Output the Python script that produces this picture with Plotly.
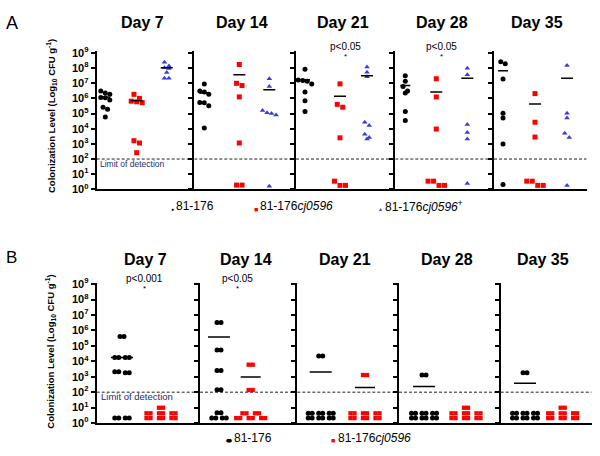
import plotly.graph_objects as go

# ---------------- data (log10 CFU per g) ----------------
days = ["Day 7", "Day 14", "Day 21", "Day 28", "Day 35"]
tick_exponents = list(range(10))
tick_labels = ["<b>10<sup>%d</sup></b>" % e for e in tick_exponents]

# Panel A
a_wt = [
    [6.49, 6.36, 6.27, 6.06, 6.04, 5.89, 5.42, 5.29, 4.78],
    [6.96, 6.49, 6.42, 6.27, 5.74, 5.72, 5.52, 4.05],
    [7.92, 7.22, 7.18, 7.13, 6.96, 6.42, 5.85, 5.14],
    [7.49, 7.13, 6.79, 6.49, 6.36, 5.14, 4.54],
    [8.42, 8.29, 7.28, 5.03, 4.71, 3.00, 0.32],
]
a_mut = [
    [6.27, 6.00, 5.82, 5.78, 5.72, 3.21, 3.06, 2.42],
    [8.24, 7.00, 6.85, 6.10, 3.06, 0.28, 0.28],
    [6.96, 5.61, 5.42, 3.40, 0.54, 0.26, 0.26],
    [7.30, 6.10, 3.98, 0.54, 0.54, 0.26, 0.26],
    [6.32, 4.43, 3.45, 0.54, 0.54, 0.26, 0.26],
]
a_comp = [
    [8.39, 8.14, 8.03, 7.97, 7.71, 7.34, 7.34],
    [7.30, 6.79, 5.20, 5.05, 5.00, 4.90, 0.20],
    [8.07, 7.73, 7.43, 4.43, 4.22, 3.64, 3.42, 3.32],
    [7.99, 7.56, 4.28, 3.75, 3.32, 0.39],
    [8.18, 5.03, 4.71, 3.70, 3.43, 0.26],
]
a_wt_mean = [6.08, 6.36, 7.24, 6.85, 7.82]
a_mut_mean = [5.85, 7.56, 6.15, 6.42, 5.63]
a_comp_mean = [8.03, 6.57, 7.49, 7.34, 7.34]
a_pvals = ["", "", "p<0.05", "p<0.05", ""]

# Panel B
b_wt = [
    [5.61, 4.24, 4.24, 3.32, 3.26, 0.32, 0.32],
    [6.51, 4.73, 3.40, 2.16, 0.67, 0.32, 0.32],
    [4.35, 0.63, 0.63, 0.63, 0.32, 0.32, 0.32],
    [3.11, 0.63, 0.63, 0.63, 0.32, 0.32, 0.32],
    [3.26, 0.63, 0.63, 0.63, 0.32, 0.32, 0.32],
]
b_mut = [
    [0.99, 0.63, 0.63, 0.63, 0.32, 0.32, 0.32],
    [3.78, 2.14, 0.63, 0.63, 0.32, 0.32, 0.32],
    [3.11, 0.63, 0.63, 0.63, 0.32, 0.32, 0.32],
    [0.99, 0.63, 0.63, 0.63, 0.32, 0.32, 0.32],
    [0.99, 0.63, 0.63, 0.63, 0.32, 0.32, 0.32],
]
b_wt_mean = [4.24, 5.57, 3.30, 2.37, 2.58]
b_mut_mean = [None, 2.98, 2.31, None, None]
b_pvals = ["p<0.001", "p<0.05", "", "", ""]

limit_of_detection = 2.0
legend_a = ["81-176", "81-176<i>cj0596</i>", "81-176<i>cj0596</i><sup>+</sup>"]
legend_b = ["81-176", "81-176<i>cj0596</i>"]

# ---------------- layout constants (pixels) ----------------
W, H = 600, 456
FONT = "Liberation Sans, Arial, sans-serif"
BLACK, RED, BLUE = "#000000", "#ff0000", "#3b3bdc"
A_EDGES = [96.7, 194.3, 296.0, 395.3, 494.0, 586.7]
B_EDGES = [96.7, 200.0, 297.3, 399.0, 500.7, 591.7]
A_YPX = (46.7, 188.3)
B_YPX = (284.1, 428.3)
A_CENTERS = {"wt": [8.6, 10, 9, 10, 9], "mut": [40, 45, 44, 41, 41], "comp": [70, 75, 71, 72, 73]}
B_CENTERS = {"wt": [25.3, 19, 23.4, 25, 24.3], "mut": [64.3, 50.7, 67.7, 67, 62]}
YMAX = 9.1


def px(x):
    return x / W


def py(y):
    return 1 - y / H


def swarm(vals, step, thr):
    order = sorted(range(len(vals)), key=lambda i: -vals[i])
    offs = [0.0] * len(vals)
    clusters, cur = [], []
    for i in order:
        if cur and vals[cur[0]] - vals[i] > thr:
            clusters.append(cur)
            cur = []
        cur.append(i)
    if cur:
        clusters.append(cur)
    for cl in clusters:
        k = len(cl)
        for j, i in enumerate(cl):
            offs[i] = (j - (k - 1) / 2) * step
    return offs


fig = go.Figure()
layout = dict(
    width=W, height=H, autosize=False,
    margin=dict(l=0, r=0, t=0, b=0),
    paper_bgcolor="white", plot_bgcolor="white",
    showlegend=False, font=dict(family=FONT, color="black"),
)
annotations = []


def ann(text, x, y, size, xanchor="center", color="black", angle=0):
    annotations.append(dict(
        text=text, x=px(x), y=py(y), xref="paper", yref="paper",
        xanchor=xanchor, yanchor="middle", showarrow=False, textangle=angle,
        borderpad=0, font=dict(family=FONT, size=size, color=color),
    ))


def setup_axes(idx, x0, x1, ypx, show_labels):
    w = x1 - x0
    layout["xaxis%d" % idx] = dict(
        domain=[px(x0), px(x1)], range=[0, w], anchor="y%d" % idx,
        showgrid=False, zeroline=False, showticklabels=False, ticks="", tickvals=[],
        showline=True, linewidth=2, linecolor="black", fixedrange=True,
    )
    layout["yaxis%d" % idx] = dict(
        domain=[py(ypx[1]), py(ypx[0])], range=[0, YMAX], anchor="x%d" % idx,
        showgrid=False, zeroline=False, showline=True, linewidth=2, linecolor="black",
        ticks="outside", ticklen=4, tickwidth=2, tickcolor="black",
        tickvals=tick_exponents, ticktext=tick_labels, showticklabels=show_labels,
        tickfont=dict(family=FONT, size=11, color="black"), fixedrange=True,
    )
    # dashed limit of detection
    fig.add_trace(go.Scatter(
        x=[0, w], y=[limit_of_detection] * 2, mode="lines",
        line=dict(color="#222222", width=1, dash="3px,2px"),
        xaxis="x%d" % idx, yaxis="y%d" % idx, hoverinfo="skip", cliponaxis=False,
    ))


def add_group(idx, vals, center, step, thr, marker, dx_list=(0,)):
    offs = swarm(vals, step, thr)
    for dx in dx_list:
        fig.add_trace(go.Scatter(
            x=[center + o + dx for o in offs], y=vals, mode="markers",
            marker=marker, xaxis="x%d" % idx, yaxis="y%d" % idx,
            cliponaxis=False, hoverinfo="y",
        ))


def add_mean(idx, m, center, hw):
    if m is None:
        return
    fig.add_trace(go.Scatter(
        x=[center - hw, center + hw], y=[m, m], mode="lines",
        line=dict(color="black", width=1.5),
        xaxis="x%d" % idx, yaxis="y%d" % idx, hoverinfo="skip", cliponaxis=False,
    ))


# ---------------- Panel A ----------------
for c in range(5):
    idx = c + 1
    setup_axes(idx, A_EDGES[c], A_EDGES[c + 1], A_YPX, c == 0)
    add_group(idx, a_wt[c], A_CENTERS["wt"][c], 4.5, 0.3,
              dict(symbol="circle", size=5, color=BLACK))
    add_group(idx, a_mut[c], A_CENTERS["mut"][c], 5.5, 0.3,
              dict(symbol="square", size=5, color=RED))
    add_group(idx, a_comp[c], A_CENTERS["comp"][c], 4.5, 0.3,
              dict(symbol="triangle-up", size=5, color=BLUE))
    add_mean(idx, a_wt_mean[c], A_CENTERS["wt"][c], 5)
    add_mean(idx, a_mut_mean[c], A_CENTERS["mut"][c], 6)
    add_mean(idx, a_comp_mean[c], A_CENTERS["comp"][c], 6)
    mid = (A_EDGES[c] + A_EDGES[c + 1]) / 2 - 3
    ann("<b>%s</b>" % days[c], mid, 17, 16)
    if a_pvals[c]:
        xc = A_EDGES[c] + A_CENTERS["mut"][c] + 5
        ann(a_pvals[c], xc, 42, 10)
        ann("*", xc, 52, 8)

# ---------------- Panel B ----------------
for c in range(5):
    idx = c + 6
    setup_axes(idx, B_EDGES[c], B_EDGES[c + 1], B_YPX, c == 0)
    add_group(idx, b_wt[c], B_CENTERS["wt"][c], 10.5, 0.15,
              dict(symbol="circle", size=5, color=BLACK), dx_list=(-2, 2))
    add_group(idx, b_mut[c], B_CENTERS["mut"][c], 12.5, 0.15,
              dict(symbol="square", size=4.3, color=RED), dx_list=(-2, 2))
    add_mean(idx, b_wt_mean[c], B_CENTERS["wt"][c], 11)
    add_mean(idx, b_mut_mean[c], B_CENTERS["mut"][c], 10)
    mid = (B_EDGES[c] + B_EDGES[c + 1]) / 2 - 3
    ann("<b>%s</b>" % days[c], mid, 260, 16)
    if b_pvals[c]:
        xc = B_EDGES[c] + (B_CENTERS["wt"][c] + B_CENTERS["mut"][c]) / 2 + 3
        ann(b_pvals[c], xc, 280, 10)
        ann("*", xc, 290, 8)

# ---------------- text ----------------
ytitle = "<b>Colonization Level (Log<sub>10</sub> CFU g<sup>-1</sup>)</b>"
ann(ytitle, 51, 113, 9.5, angle=-90)
ann(ytitle, 51, 355, 9.5, angle=-90)
ann("A", 12, 17, 18)
ann("B", 11, 258, 17)
ann("Limit of detection", 99, 162, 8.5, xanchor="left", color="#2a2a6a")
ann("Limit of detection", 100, 401, 9.5, xanchor="left", color="#2a2a6a")

# legends
ann("●", 172, 208.5, 5, color=BLACK)
ann(legend_a[0], 175, 205, 12, xanchor="left")
ann("■", 255.5, 208.5, 7, color=RED)
ann(legend_a[1], 258.5, 205, 12, xanchor="left")
ann("▲", 380, 209, 5, color=BLUE)
ann(legend_a[2], 384, 205, 12, xanchor="left")

ann("⬬", 229, 446.5, 7, color=BLACK)
ann(legend_b[0], 233, 444, 12, xanchor="left")
ann("■", 333, 446.5, 7, color=RED)
ann(legend_b[1], 337, 444, 12, xanchor="left")

layout["annotations"] = annotations
fig.update_layout(**layout)
fig.write_html("out.html", config={"displayModeBar": False},
               post_script="document.body.style.margin='0';document.body.style.overflow='hidden';")
